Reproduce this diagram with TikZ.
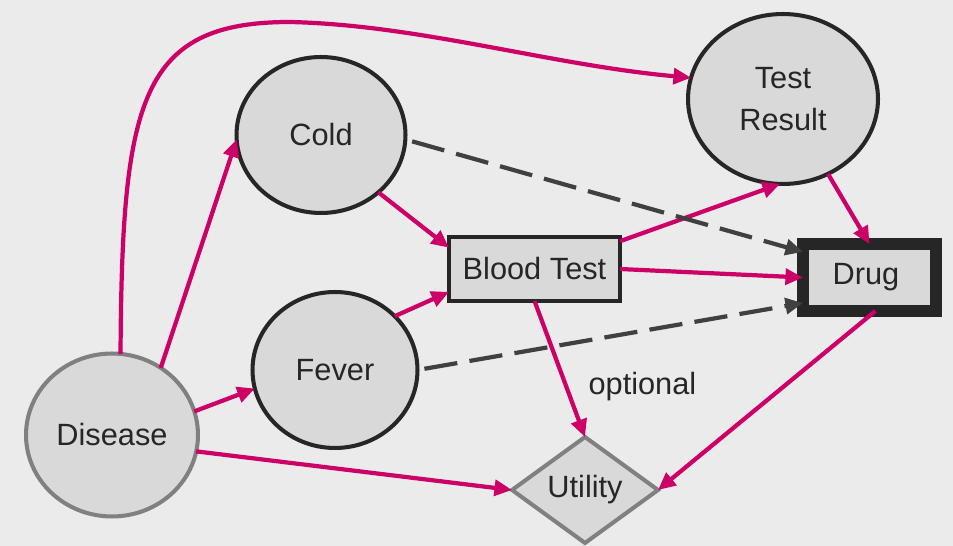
\documentclass[tikz,border=0pt]{standalone}
\usepackage{fontspec}
\setmainfont{Liberation Sans}
\usepackage{xcolor}
\usepackage{tikz}
\usetikzlibrary{arrows.meta,positioning,shapes.geometric,calc}

\definecolor{pagegray}{HTML}{EBEBEB}
\definecolor{nodefill}{HTML}{D9D9D9}
\definecolor{nodedark}{HTML}{262626}
\definecolor{nodegray}{HTML}{808080}
\definecolor{linkpink}{HTML}{CC0066}
\definecolor{infogray}{HTML}{404040}

\begin{document}
\begin{tikzpicture}[x=0.02cm, y=-0.02cm,
  chance/.style={ellipse, draw=nodedark, line width=2.3pt, fill=nodefill,
    inner sep=0pt, outer sep=0pt, text=nodedark, align=center,
    font=\fontsize{17.5}{24}\selectfont},
  choice/.style={rectangle, draw=nodedark, line width=2.3pt, fill=nodefill,
    inner sep=0pt, outer sep=0pt, text=nodedark,
    font=\fontsize{17.5}{24}\selectfont},
  worth/.style={diamond, draw=nodegray, line width=2.3pt, fill=nodefill,
    inner sep=0pt, outer sep=0pt, text=nodedark,
    font=\fontsize{17.5}{24}\selectfont},
  link/.style={draw=linkpink, line width=2.4pt,
    -{Triangle[length=10pt,width=9pt]}},
  info/.style={draw=infogray, line width=2.4pt, dash pattern=on 19pt off 7pt,
    -{Triangle[length=10pt,width=9pt]}}]
\fill[pagegray] (0,0) rectangle (953,546);
\useasboundingbox (0,0) rectangle (953,546);

% Chance nodes
\node[chance, draw=nodegray, minimum width=3.44cm, minimum height=3.26cm] (disease) at (112,435) {Disease};
\node[chance, minimum width=3.38cm, minimum height=3.12cm] (cold) at (321,135) {Cold};
\node[chance, minimum width=3.30cm, minimum height=3.12cm] (fever) at (335,370) {Fever};
\node[chance, minimum width=3.80cm, minimum height=3.40cm] (result) at (783,99) {Test\\Result};

% Decisions and utility
\node[choice, minimum width=3.42cm, minimum height=1.28cm] (blood) at (534.5,269) {Blood Test};
\node[choice, line width=6.8pt, minimum width=2.66cm, minimum height=1.34cm] (drug) at (869.5,277.5) {Drug\hspace*{4pt}};
\node[worth, minimum width=2.92cm, minimum height=2.12cm] (utility) at (585,490) {Utility};

% Dependencies
\draw[link] (disease.84) .. controls (122,100) and (140,22) .. (290,22)
  .. controls (420,25) and (550,65) .. (result.167);
\draw[link] (disease.54) -- (cold.183);
\draw[link] (disease.16) -- (fever.193);
\draw[link] (disease.349) -- (utility.west);
\draw[link] (cold.315) -- (blood.166);
\draw[link] (fever.42) -- (blood.195);
\draw[link] (blood.18) -- (result.268);
\draw[link] (blood.east) -- (drug.west);
\draw[link] (blood.south) -- node[pos=0.6, right=9pt, yshift=-2pt, text=nodedark,
  font=\fontsize{17.5}{24}\selectfont] (opt) {optional} (utility.north);
\draw[link] (result.301) -- (drug.north);
\draw[link] (drug.-80) -- (utility.east);

% Information links
\draw[info, shorten <=4pt] (cold.357) -- (drug.159);
\draw[info, shorten <=4pt] (fever.0) -- (drug.201);
\end{tikzpicture}
\end{document}
